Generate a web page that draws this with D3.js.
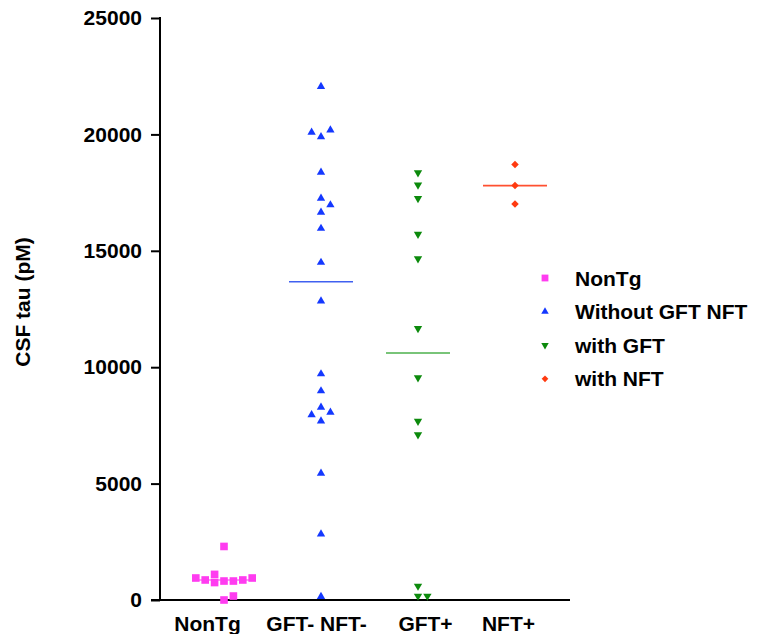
<!DOCTYPE html>
<html>
<head>
<meta charset="utf-8">
<script src="https://cdn.jsdelivr.net/npm/d3@7"></script>
<style>
  body { margin: 0; background: #fff; }
  text { font-family: "Liberation Sans", Arial, sans-serif; font-weight: bold; }
</style>
</head>
<body>
<div id="okvir"></div>
<script>
const categories = ["NonTg", "GFT- NFT-", "GFT+", "NFT+"]
const legendLabels = ["NonTg", "Without GFT NFT", "with GFT", "with NFT"]
const yTicks = [0, 5000, 10000, 15000, 20000, 25000]

// CSF tau (pM) per animal, in reading order
const nonTg = [2300, 0, 170, 815, 815, 1100, 750, 860, 860, 945, 945]
const withoutGftNft = [22050, 19900, 20190, 20090, 18370, 17250, 16650, 16970, 15960, 14500,
  12840, 9710, 8980, 8280, 7690, 8060, 7950, 5440, 2835, 150]
const withGft = [18360, 17830, 17250, 15710, 14660, 11670, 9550, 7680, 7100, 600, 170, 170]
const withNft = [18710, 17800, 17010]

function crtaj() {
  const groups = [nonTg, withoutGftNft, withGft, withNft]
  const colors = ["#ff3cf0", "#1438ff", "#0c8a0c", "#ff3a10"]
  const lineColors = ["#ff70f4", "#4060f0", "#4db04d", "#ff5030"]
  const symbols = [d3.symbolSquare, d3.symbolTriangle, d3.symbolTriangle, d3.symbolSquare]
  const rotations = [0, 0, 180, 45]
  const symSize = [58, 30, 30, 28]
  const labelShift = [-17, -5, 7, -7]

  const dim = { sirina: 765, visina: 634 }

  const svg = d3.select("#okvir").append("svg")
    .attr("width", dim.sirina)
    .attr("height", dim.visina)

  const xSkala = d3.scalePoint()
    .domain(categories)
    .range([224, 515])

  const ySkala = d3.scaleLinear()
    .domain([0, 25000])
    .range([600, 18])

  // slaganje tocaka koje se preklapaju u stupce
  const korak = 9.4
  const prag = 8
  const rasporedi = vals => {
    const placed = []
    return vals.map(v => {
      const y = ySkala(v)
      let k = 0
      for (let i = 0; ; i++) {
        k = i === 0 ? 0 : (i % 2 === 1 ? (i + 1) / 2 : -i / 2)
        if (!placed.some(p => p.k === k && Math.abs(p.y - y) < prag)) break
      }
      placed.push({ k, y })
      return { v, k }
    })
  }

  // y os
  const yOs = svg.append("g")
    .attr("transform", "translate(160,0)")
    .call(d3.axisLeft(ySkala).tickValues(yTicks).tickFormat(d3.format("d"))
      .tickSize(9).tickSizeOuter(0).tickPadding(9))
  yOs.select(".domain").remove()
  yOs.selectAll(".tick line").attr("stroke", "#000").attr("stroke-width", 2)
  yOs.selectAll(".tick text").attr("fill", "#000").style("font-size", "21px")
  yOs.append("line")
    .attr("y1", ySkala(25000) - 1).attr("y2", ySkala(0) + 1)
    .attr("stroke", "#000").attr("stroke-width", 2)

  // x os
  svg.append("line")
    .attr("x1", 151).attr("x2", 570)
    .attr("y1", ySkala(0)).attr("y2", ySkala(0))
    .attr("stroke", "#000").attr("stroke-width", 2)
  const xOs = svg.append("g")
    .attr("transform", `translate(0,${ySkala(0)})`)
    .call(d3.axisBottom(xSkala).tickSize(0).tickPadding(16))
  xOs.select(".domain").remove()
  xOs.selectAll(".tick text")
    .attr("fill", "#000")
    .attr("dx", (d, i) => labelShift[i])
    .style("font-size", "21px")

  svg.append("text")
    .attr("transform", "translate(30,302) rotate(-90)")
    .attr("text-anchor", "middle")
    .style("font-size", "21px")
    .text("CSF tau (pM)")

  // medijani
  groups.forEach((g, i) => {
    const cx = xSkala(categories[i])
    svg.append("line")
      .attr("x1", cx - 32).attr("x2", cx + 32)
      .attr("y1", ySkala(d3.median(g))).attr("y2", ySkala(d3.median(g)))
      .attr("stroke", lineColors[i]).attr("stroke-width", 1.6)
  })

  // tocke
  groups.forEach((g, i) => {
    const cx = xSkala(categories[i])
    svg.append("g").selectAll("path")
      .data(rasporedi(g))
      .join("path")
      .attr("d", d3.symbol(symbols[i], symSize[i]))
      .attr("transform", d => `translate(${cx + d.k * korak},${ySkala(d.v)}) rotate(${rotations[i]})`)
      .attr("fill", colors[i])
  })

  // legenda
  const legenda = svg.append("g").attr("transform", "translate(545,278)")
  const red = legenda.selectAll("g").data(legendLabels).join("g")
    .attr("transform", (d, i) => `translate(0,${i * 33.6})`)
  red.append("path")
    .attr("d", (d, i) => d3.symbol(symbols[i], symSize[i] * 0.8)())
    .attr("transform", (d, i) => `rotate(${rotations[i]})`)
    .attr("fill", (d, i) => colors[i])
  red.append("text")
    .attr("x", 30)
    .attr("y", 7.5)
    .style("font-size", "21px")
    .text(d => d)
}
crtaj()
</script>
</body>
</html>
